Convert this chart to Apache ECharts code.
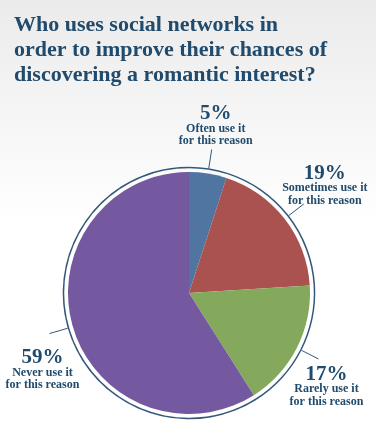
<!DOCTYPE html>
<html>
<head>
<meta charset="utf-8">
<script src="https://cdn.jsdelivr.net/npm/echarts@6/dist/echarts.min.js"></script>
<style>
  html, body { margin: 0; padding: 0; }
  #chart { width: 376px; height: 447px; }
</style>
</head>
<body>
<div id="chart"></div>
<script>
// 数据
var titleLines = ['Who uses social networks in', 'order to improve their chances of', 'discovering a romantic interest?'];
var categories = ['Often use it', 'Sometimes use it', 'Rarely use it', 'Never use it'];
var percents = [5, 19, 17, 59];
var sliceColors = ['#4f75a0', '#a9524f', '#84a95c', '#7458a0'];

// label offset from end of label line: [dx, dy, verticalAlign]
var labelOffsets = [
    [4, -2, 'bottom'],
    [21, 3, 'bottom'],
    [8, 7, 'top'],
    [-7, 16, 'top']
];

var textColor = '#214b6c';

var pieData = [];
var ringData = [];
for (var i = 0; i < categories.length; i++) {
    pieData.push({ value: percents[i], name: categories[i], itemStyle: { color: sliceColors[i] } });
    ringData.push({ value: percents[i], name: categories[i] });
}

var myChart = echarts.init(document.getElementById('chart'));
option = {
    backgroundColor: {
        type: 'linear', x: 0, y: 0, x2: 0, y2: 1,
        colorStops: [
            { offset: 0, color: '#ebebeb' },
            { offset: 0.35, color: '#f9f9f9' },
            { offset: 0.5, color: '#ffffff' },
            { offset: 1, color: '#ffffff' }
        ]
    },
    title: {
        text: titleLines.join('\n'),
        left: 9,
        top: 8,
        textStyle: {
            fontFamily: 'Liberation Serif',
            fontWeight: 'bold',
            fontSize: 22,
            lineHeight: 25,
            color: textColor
        }
    },
    series: [
        {
            name: 'pie',
            type: 'pie',
            center: [189, 293],
            radius: [0, 121],
            startAngle: 90,
            silent: true,
            label: { show: false },
            labelLine: { show: false },
            itemStyle: { borderWidth: 0 },
            data: pieData
        },
        {
            name: 'ring',
            type: 'pie',
            center: [189, 293],
            radius: [124.8, 126.3],
            startAngle: 90,
            silent: true,
            avoidLabelOverlap: false,
            itemStyle: { color: '#34587a', borderWidth: 0 },
            label: {
                show: true,
                position: 'outside',
                formatter: function (p) {
                    return '{p|' + p.value + '%}\n{t|' + p.name + '}\n{t|for this reason}';
                },
                rich: {
                    p: { fontFamily: 'Liberation Serif', fontWeight: 'bold', fontSize: 21, lineHeight: 17, color: textColor, align: 'center' },
                    t: { fontFamily: 'Liberation Serif', fontWeight: 'bold', fontSize: 12, lineHeight: 12.5, color: textColor, align: 'center' }
                }
            },
            labelLine: {
                show: true,
                length: 19,
                length2: 0,
                smooth: false,
                lineStyle: { color: '#34587a', width: 1 }
            },
            labelLayout: function (params) {
                var pts = params.labelLinePoints;
                var end = pts[pts.length - 1];
                var o = labelOffsets[params.dataIndex];
                return {
                    x: end[0] + o[0],
                    y: end[1] + o[1],
                    align: 'center',
                    verticalAlign: o[2],
                    labelLinePoints: pts
                };
            },
            data: ringData
        }
    ]
};
myChart.setOption(option);
</script>
</body>
</html>
